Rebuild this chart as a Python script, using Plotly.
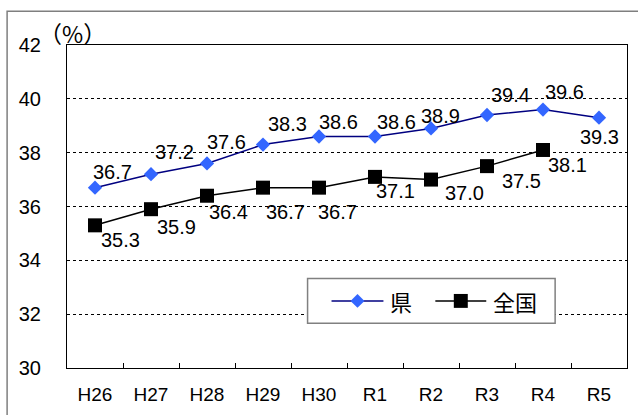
import plotly.graph_objects as go

categories = ["H26", "H27", "H28", "H29", "H30", "R1", "R2", "R3", "R4", "R5"]
ken = [36.7, 37.2, 37.6, 38.3, 38.6, 38.6, 38.9, 39.4, 39.6, 39.3]
zenkoku = [35.3, 35.9, 36.4, 36.7, 36.7, 37.1, 37.0, 37.5, 38.1, None]
series_names = ["県", "全国"]

# label offsets in pixels (dx right, dy down)
ken_off = [(17, -16), (23, -22), (19, -21), (24, -21), (19, -15), (21, -15), (9, -12), (23, -20), (21, -18), (0, 19)]
zen_off = [(25, 15), (25, 18), (21, 16), (22, 24), (18, 24), (20, 14), (33, 13), (34, 15), (24, 15), (0, 0)]

FONT = "Liberation Sans, Arial, Noto Sans CJK JP, sans-serif"
CJK = "Noto Sans CJK JP"
KEN_LINE = "#000080"
KEN_MARK = "#3366FF"

W, H = 638, 415
ML, MR, MT, MB = 67, 10, 45, 45
PW, PH = W - ML - MR, H - MT - MB


def px(x):
    return (x - ML) / PW


def py(y):
    return (H - MB - y) / PH


fig = go.Figure()
fig.add_trace(go.Scatter(
    x=categories, y=ken, name=series_names[0], mode="lines+markers", showlegend=False,
    line=dict(color=KEN_LINE, width=1.5),
    marker=dict(symbol="diamond", size=11, color=KEN_MARK, line=dict(width=0)),
))
fig.add_trace(go.Scatter(
    x=categories, y=zenkoku, name=series_names[1], mode="lines+markers", showlegend=False,
    line=dict(color="#000000", width=1.5),
    marker=dict(symbol="square", size=14, color="#000000", line=dict(width=0)),
))

annotations = []
for c, v, (dx, dy) in zip(categories, ken, ken_off):
    annotations.append(dict(x=c, y=v, xref="x", yref="y", text=f"{v:.1f}", showarrow=False,
                            xshift=dx, yshift=-dy, font=dict(size=20, color="black", family=FONT)))
for c, v, (dx, dy) in zip(categories, zenkoku, zen_off):
    if v is None:
        continue
    annotations.append(dict(x=c, y=v, xref="x", yref="y", text=f"{v:.1f}", showarrow=False,
                            xshift=dx, yshift=-dy, font=dict(size=20, color="black", family=FONT)))
annotations.append(dict(x=px(73), y=py(33), xref="paper", yref="paper", text="（%）", showarrow=False,
                        xanchor="center", yanchor="middle",
                        font=dict(size=23, color="black", family=CJK)))

# custom legend
annotations.append(dict(x=px(402), y=py(303), xref="paper", yref="paper", text=series_names[0],
                        showarrow=False, xanchor="center", yanchor="middle",
                        font=dict(size=22, color="black", family=CJK)))
annotations.append(dict(x=px(516), y=py(303), xref="paper", yref="paper", text=series_names[1],
                        showarrow=False, xanchor="center", yanchor="middle",
                        font=dict(size=22, color="black", family=CJK)))

shapes = [
    dict(type="rect", xref="paper", yref="paper", x0=px(7), x1=1.2, y0=-0.3, y1=py(11),
         line=dict(color="#7f7f7f", width=1.5), fillcolor="rgba(0,0,0,0)", layer="below"),
    dict(type="rect", xref="paper", yref="paper", x0=px(308), x1=px(556), y0=py(325), y1=py(280),
         line=dict(color="#808080", width=1.5), fillcolor="white", layer="above"),
    dict(type="line", xref="paper", yref="paper", x0=px(332), x1=px(384), y0=py(302.5), y1=py(302.5),
         line=dict(color=KEN_LINE, width=1.5)),
    dict(type="line", xref="paper", yref="paper", x0=px(436), x1=px(487), y0=py(302.5), y1=py(302.5),
         line=dict(color="black", width=1.5)),
]
cx, cy = 358, 302.5
shapes.append(dict(type="path", xref="paper", yref="paper",
                   path=f"M {px(cx-7)},{py(cy)} L {px(cx)},{py(cy-7)} L {px(cx+7)},{py(cy)} L {px(cx)},{py(cy+7)} Z",
                   fillcolor=KEN_MARK, line=dict(width=0)))
sx = 461.5
shapes.append(dict(type="rect", xref="paper", yref="paper", x0=px(sx-7), x1=px(sx+7),
                   y0=py(cy+7), y1=py(cy-7), fillcolor="black", line=dict(width=0)))

fig.update_layout(
    width=W, height=H,
    margin=dict(l=ML, r=MR, t=MT, b=MB),
    paper_bgcolor="white", plot_bgcolor="white",
    font=dict(family=FONT, size=20, color="black"),
    showlegend=False,
    annotations=annotations,
    shapes=shapes,
)
fig.update_xaxes(
    type="category", range=[-0.5, len(categories) - 0.5], autorange=False,
    showline=True, linecolor="black", linewidth=1, mirror=True,
    ticks="inside", ticklen=5, tickcolor="black", tickson="boundaries",
    showgrid=False, ticklabelstandoff=9, tickfont=dict(size=19),
)
fig.update_yaxes(
    range=[30, 42], dtick=2, tick0=30, showline=True, linecolor="black", linewidth=1, mirror=True,
    showgrid=True, gridcolor="black", gridwidth=1, griddash="dot", zeroline=False,
    ticks="", ticklabelstandoff=21, tickfont=dict(size=20),
)
fig.write_html("out.html")
